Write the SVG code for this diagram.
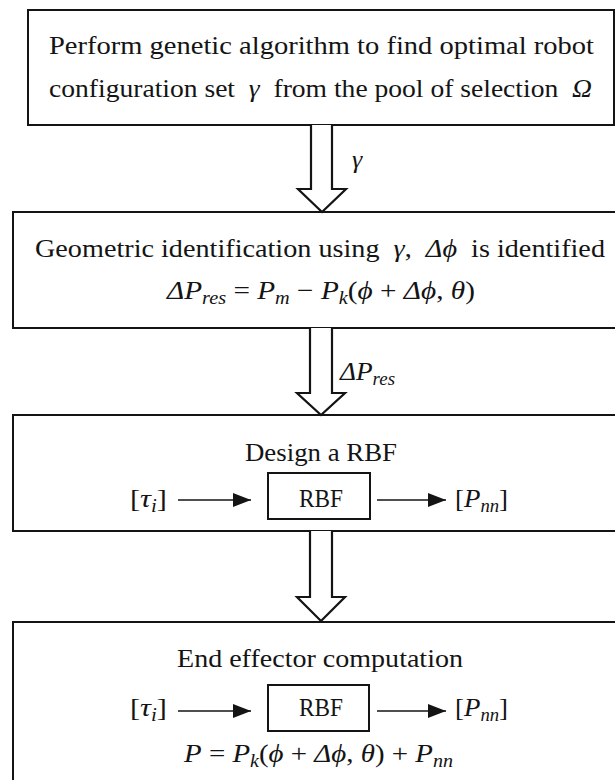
<svg xmlns="http://www.w3.org/2000/svg" width="615" height="780" viewBox="0 0 615 780">
<defs>
<style>
.box{fill:#fff;stroke:#141414;stroke-width:2}
.blk{fill:#fff;stroke:#141414;stroke-width:2.2;stroke-linejoin:miter}
.ln{fill:none;stroke:#141414;stroke-width:1.6}
text{font-family:"Liberation Serif","Times New Roman",serif;font-size:26px;fill:#141414}
.i{font-style:italic}
.s{font-size:18px}
.r{font-size:25px}
</style>
<marker id="ah" markerUnits="userSpaceOnUse" markerWidth="18" markerHeight="14" viewBox="0 0 18 14" refX="18" refY="7" orient="auto"><path d="M0,0 L18,7 L0,14 z" fill="#141414"/></marker>
</defs>
<rect width="615" height="780" fill="#fff"/>

<g id="node-ga">
<rect class="box" x="28" y="10" width="586" height="115"/>
<text x="49" y="54" textLength="545" lengthAdjust="spacingAndGlyphs">Perform genetic algorithm to find optimal robot</text>
<text x="49" y="97" textLength="543" lengthAdjust="spacingAndGlyphs">configuration set&#160; <tspan class="i">γ</tspan>&#160; from the pool of selection&#160; <tspan class="i">Ω</tspan></text>
</g>

<g id="node-geometric">
<rect class="box" x="13" y="212" width="612" height="116"/>
<text x="35" y="257" textLength="570" lengthAdjust="spacingAndGlyphs">Geometric identification using&#160; <tspan class="i">γ</tspan>,&#160; <tspan class="i">Δϕ</tspan>&#160; is identified</text>
<text x="167" y="299" textLength="308" lengthAdjust="spacingAndGlyphs"><tspan class="i">ΔP</tspan><tspan class="i s" dy="5">res</tspan><tspan dy="-5"> = </tspan><tspan class="i">P</tspan><tspan class="i s" dy="5">m</tspan><tspan dy="-5"> − </tspan><tspan class="i">P</tspan><tspan class="i s" dy="5">k</tspan><tspan dy="-5">(</tspan><tspan class="i">ϕ</tspan> + <tspan class="i">Δϕ</tspan>, <tspan class="i">θ</tspan>)</text>
</g>

<g id="node-design">
<rect class="box" x="13" y="415" width="612" height="116"/>
<text x="245" y="461" textLength="152" lengthAdjust="spacingAndGlyphs">Design a RBF</text>
<text x="130" y="507" textLength="37" lengthAdjust="spacingAndGlyphs">[<tspan class="i">τ</tspan><tspan class="i s" dy="5">i</tspan><tspan dy="-5">]</tspan></text>
<g id="node-design-rbf">
<rect class="box" x="268" y="473" width="102" height="46"/>
<text class="r" x="299" y="507" textLength="44" lengthAdjust="spacingAndGlyphs">RBF</text>
</g>
<text x="455" y="507" textLength="53" lengthAdjust="spacingAndGlyphs">[<tspan class="i">P</tspan><tspan class="i s" dy="5">nn</tspan><tspan dy="-5">]</tspan></text>
</g>

<g id="node-endeffector">
<rect class="box" x="13" y="622" width="612" height="170"/>
<text x="177" y="667" textLength="286" lengthAdjust="spacingAndGlyphs">End effector computation</text>
<text x="130" y="716" textLength="37" lengthAdjust="spacingAndGlyphs">[<tspan class="i">τ</tspan><tspan class="i s" dy="5">i</tspan><tspan dy="-5">]</tspan></text>
<g id="node-end-rbf">
<rect class="box" x="268" y="685" width="101" height="46"/>
<text class="r" x="299" y="716" textLength="44" lengthAdjust="spacingAndGlyphs">RBF</text>
</g>
<text x="455" y="716" textLength="53" lengthAdjust="spacingAndGlyphs">[<tspan class="i">P</tspan><tspan class="i s" dy="5">nn</tspan><tspan dy="-5">]</tspan></text>
<text x="184" y="762" textLength="269" lengthAdjust="spacingAndGlyphs"><tspan class="i">P</tspan> = <tspan class="i">P</tspan><tspan class="i s" dy="5">k</tspan><tspan dy="-5">(</tspan><tspan class="i">ϕ</tspan> + <tspan class="i">Δϕ</tspan>, <tspan class="i">θ</tspan>) + <tspan class="i">P</tspan><tspan class="i s" dy="5">nn</tspan></text>
</g>

<g id="connectors">
<path class="blk" d="M311,125 V189 H298 L322,212 L346,189 H332 V125"/>
<text class="i" x="352" y="168">γ</text>
<path class="blk" d="M310,328 V393 H297 L321,415 L345,393 H332 V328"/>
<text x="340" y="380" textLength="55" lengthAdjust="spacingAndGlyphs"><tspan class="i">ΔP</tspan><tspan class="i s" dy="5">res</tspan></text>
<path class="blk" d="M310,531 V597 H297 L321,621 L345,597 H332 V531"/>
<line class="ln" x1="178" y1="500" x2="251" y2="500" marker-end="url(#ah)"/>
<line class="ln" x1="377" y1="500" x2="446" y2="500" marker-end="url(#ah)"/>
<line class="ln" x1="178" y1="711" x2="251" y2="711" marker-end="url(#ah)"/>
<line class="ln" x1="377" y1="711" x2="446" y2="711" marker-end="url(#ah)"/>
</g>
</svg>
